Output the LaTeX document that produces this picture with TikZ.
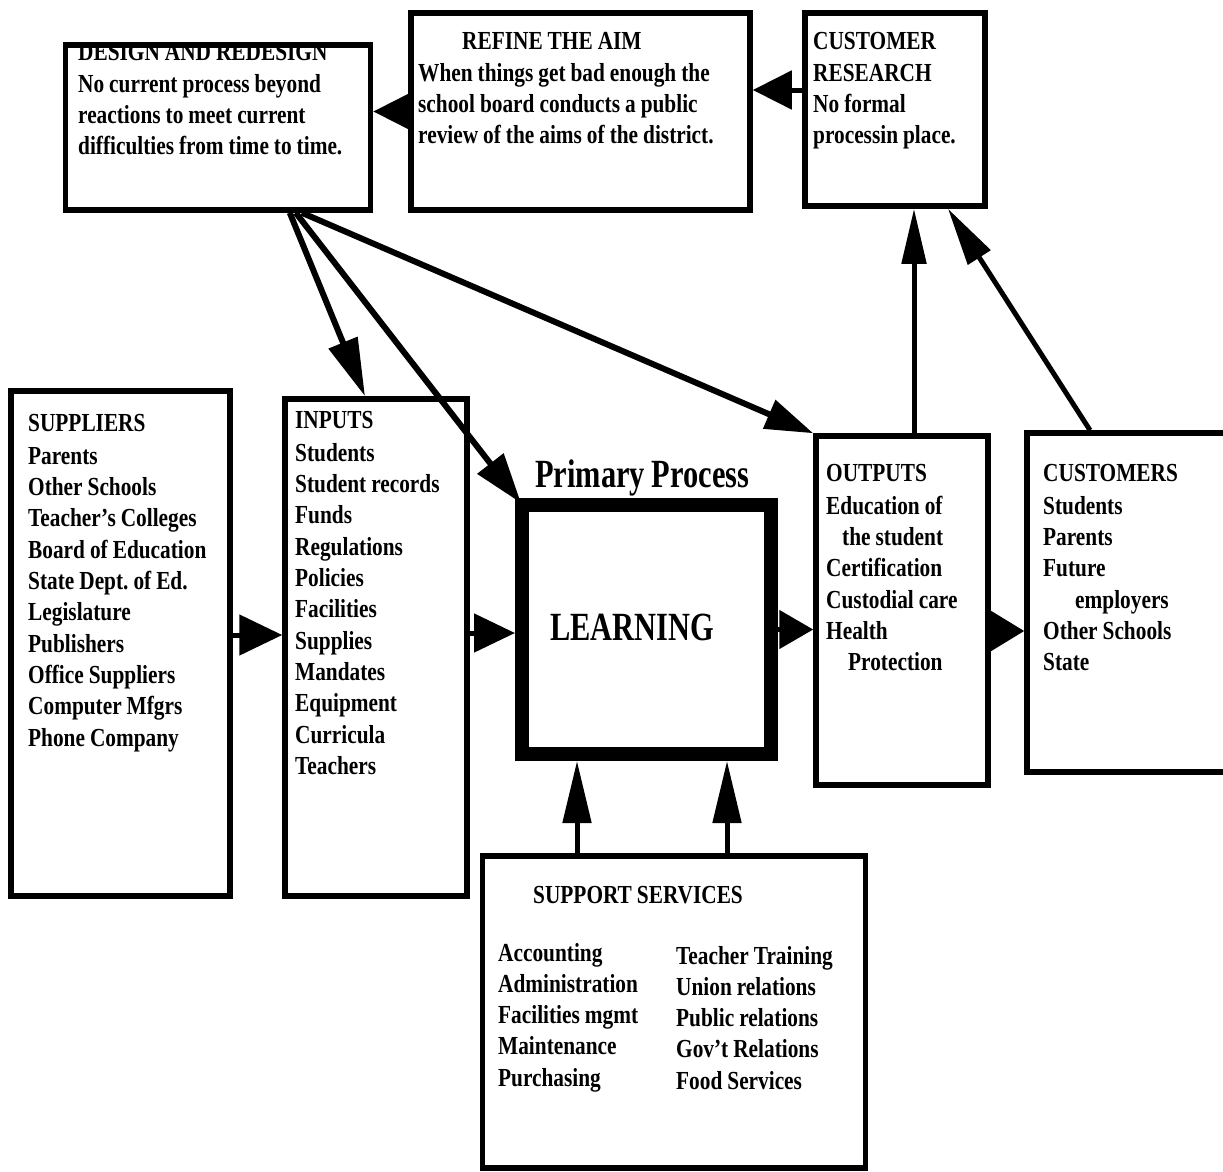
\documentclass[tikz,border=0pt]{standalone}
\usepackage{fontspec}
\setmainfont{Liberation Serif}
\newfontfamily\tf[FakeStretch=0.82]{Liberation Serif}
\newfontfamily\tfbig[FakeStretch=0.76]{Liberation Serif}
\newcommand\narrowspace{\frenchspacing\spaceskip=5pt plus 1pt minus 1pt\relax}
\newcommand\bigspace{\frenchspacing\spaceskip=7pt\relax}
\usetikzlibrary{arrows.meta}
\begin{document}
\begin{tikzpicture}[x=1pt,y=-1pt,
  txt/.style={anchor=base west, inner sep=0pt, text width=420pt, align=left,
    font=\tf\bfseries\fontsize{26}{31.3}\selectfont, execute at begin node=\narrowspace},
  bigtxt/.style={anchor=base west, inner sep=0pt,
    font=\tfbig\bfseries\fontsize{40}{44}\selectfont, execute at begin node=\bigspace},
  box/.style={draw, line width=5.5pt, rectangle, inner sep=0pt},
  ar/.style args={#1/#2}{line width=5pt, -{Triangle[length=#1pt,width=#2pt]}}
]
\fill[white] (0,0) rectangle (1223,1172);
\useasboundingbox (0,0) rectangle (1223,1172);

% ---- texts ----
\node[txt] (tdesign) at (78,61) {DESIGN AND REDESIGN\\No current process beyond\\reactions to meet current\\difficulties from time to time.};
\node[txt] (trefine) at (418,50) {\hspace*{44pt}REFINE THE AIM\\When things get bad enough the\\school board conducts a public\\review of the aims of the district.};
\node[txt] (tresearch) at (813,50) {CUSTOMER\\RESEARCH\\No formal\\processin place.};
\node[txt] (tsupp) at (28,431) {SUPPLIERS\\[2pt]Parents\\Other Schools\\Teacher’s Colleges\\Board of Education\\State Dept. of Ed.\\Legislature\\Publishers\\Office Suppliers\\Computer Mfgrs\\Phone Company};
\node[txt] (tinputs) at (295,428) {INPUTS\\[2pt]Students\\Student records\\Funds\\Regulations\\Policies\\Facilities\\Supplies\\Mandates\\Equipment\\Curricula\\Teachers};
\node[txt] (toutputs) at (826,481) {OUTPUTS\\[2pt]Education of\\\hspace*{16pt}the student\\Certification\\Custodial care\\Health\\\hspace*{22pt}Protection};
\node[txt] (tcust) at (1043,481) {CUSTOMERS\\[2pt]Students\\Parents\\Future\\\hspace*{32pt}employers\\Other Schools\\State};
\node[txt] (tsupport) at (533,903) {SUPPORT SERVICES};
\node[txt] (tsupl) at (498,961) {Accounting\\Administration\\Facilities mgmt\\Maintenance\\Purchasing};
\node[txt] (tsupr) at (676,964) {Teacher Training\\Union relations\\Public relations\\Gov’t Relations\\Food Services};
\node[bigtxt] (tprim) at (535,487) {Primary Process};
\node[bigtxt] (tlearn) at (550,640) {LEARNING};

% ---- boxes ----
\node[box, minimum width=305pt, minimum height=165pt] (design) at (218,127.5) {};
\node[box, minimum width=339pt, minimum height=197pt] (refine) at (580.5,111.5) {};
\node[box, minimum width=180pt, minimum height=193pt] (research) at (895,109.5) {};
\node[box, minimum width=219pt, minimum height=505pt] (suppliers) at (120.5,643.5) {};
\node[box, minimum width=182pt, minimum height=497pt] (inputs) at (376,647.5) {};
\node[box, line width=14pt, minimum width=249pt, minimum height=249pt] (learning) at (646.5,629.5) {};
\node[box, minimum width=172pt, minimum height=349pt] (outputs) at (902,610.5) {};
\node[box, minimum width=208pt, minimum height=339pt] (customers) at (1131,602.5) {};
\node[box, minimum width=383pt, minimum height=312pt] (support) at (674,1012) {};

% ---- connectors ----
\draw[ar=35/34] (refine.west) -- (refine.west -| design.east);
\coordinate (a2) at ([yshift=19.5pt]research.west);
\draw[ar=39/38] (a2) -- (a2 -| refine.east);

\draw[ar=58/30, line width=6pt] ([xshift=227pt]design.south west) -- ([xshift=-11pt]inputs.north);
\draw[ar=50/32, line width=6pt] ([xshift=233pt]design.south west) -- ([xshift=6pt,yshift=-5pt]learning.north west);
\draw[ar=48/30, line width=6pt] ([xshift=239pt]design.south west) -- (outputs.north west);

\coordinate (a6) at ([xshift=12pt]outputs.north);
\draw[ar=55/24] (a6) -- (a6 |- research.south);
\draw[ar=58/26] ([xshift=-41pt]customers.north) -- ([xshift=53pt]research.south);

\coordinate (a8) at ([yshift=8.5pt]suppliers.east);
\draw[ar=43/40] (a8) -- (a8 -| inputs.west);
\coordinate (a9) at ([yshift=14.5pt]inputs.east);
\draw[ar=41/38] (a9) -- (a9 -| learning.west);
\draw[ar=34/38] (learning.east) -- (learning.east -| outputs.west);
\coordinate (a11) at ([yshift=-20.5pt]outputs.east);
\draw[ar=34/40] (a11) -- (a11 -| customers.west);

\coordinate (a12) at ([xshift=-97pt]support.north);
\draw[ar=62/28] (a12) -- (a12 |- learning.south);
\coordinate (a13) at ([xshift=53pt]support.north);
\draw[ar=62/28] (a13) -- (a13 |- learning.south);
\end{tikzpicture}
\end{document}
